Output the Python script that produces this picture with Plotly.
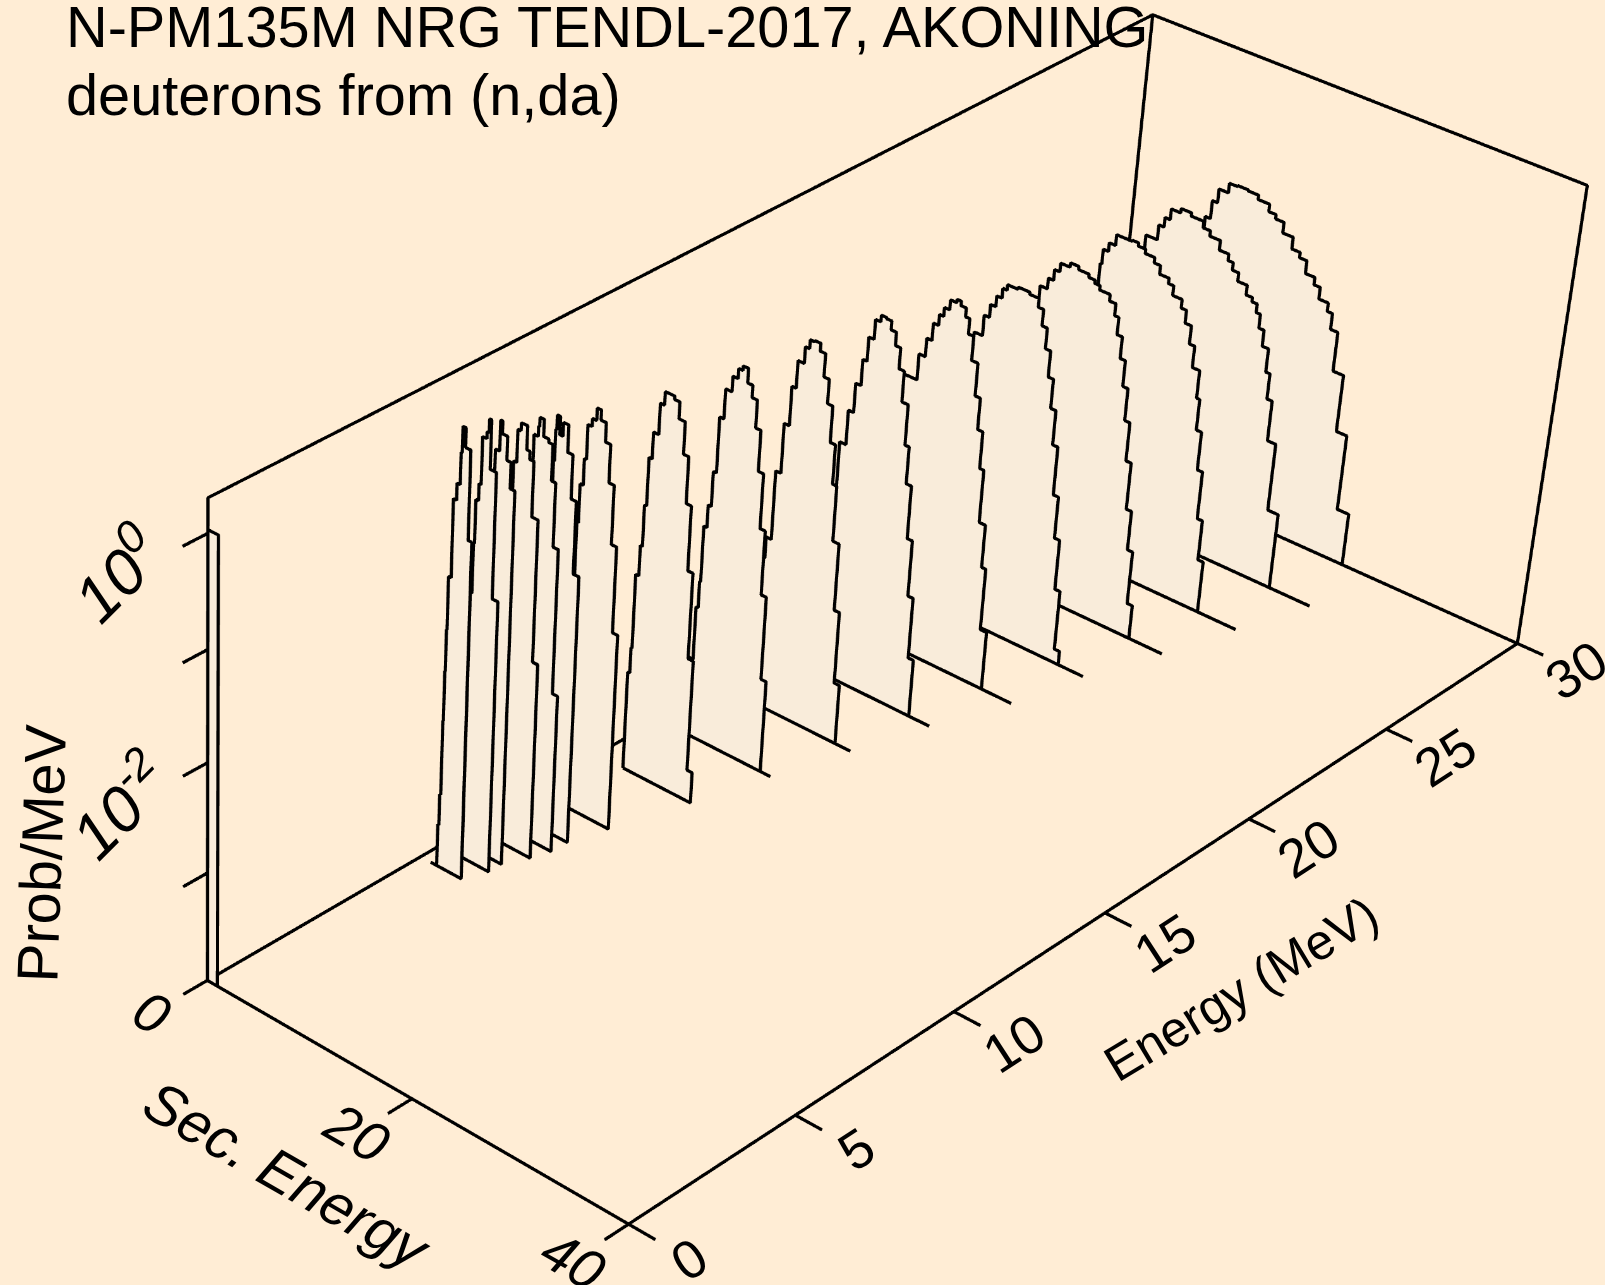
import plotly.graph_objects as go

# ---- data ------------------------------------------------------------------
TITLE_1 = "N-PM135M NRG TENDL-2017, AKONING"
TITLE_2 = "deuterons from (n,da)"
X_TITLE = "Sec. Energy"
Y_TITLE = "Energy (MeV)"
Z_TITLE = "Prob/MeV"
SEC_TICKS = [0, 20, 40]
EN_TICKS = [0, 5, 10, 15, 20, 25, 30]
LOG_TICKS = [-3, -2, -1, 0]
LOG_TICK_LABELS = {0: "0", -2: "-2"}
SEC_MAX = 40
EN_MAX = 30
LOG_FLOOR = -4
LOG_TOP = 0.3

energy = [0, 6.4, 7, 7.4, 8, 8.5, 9, 10, 12, 14, 16, 18, 20, 22, 24, 26, 28, 30]
sec_start = [0, 1.6, 2.2, 2.1, 2.3, 2.5, 3.1, 2.95, 2.6, 2.5, 3.1, 3.5, 3.8, 5.1, 6.1, 6.6, 5.6, 6.4]
sec_tail = [None, None, None, None, None, None, None, None, None, 11.2, 13.2, 15.2, 17.6, 19.1, 21.4, 23.3, 25.3, None]
sec_lead = 1.0  # the E=6.4 curve has a short zero run before its first bin

edges_00 = [1.0]
logp_00 = [0.03]
edges_01 = [1.7, 1.8, 1.85, 1.9, 1.95, 2.2, 2.5, 2.8, 2.9, 3.2, 3.7, 4.05]
logp_01 = [-3.61, -3.32, -2.63, -2.17, -1.79, -1.31, -0.61, -0.46, -0.18, 0.05, -0.12, -0.91]
edges_02 = [2.35, 2.45, 2.7, 2.9, 3.3, 3.5, 3.7, 4.3, 4.85]
logp_02 = [-1.54, -1.09, -0.70, -0.55, -0.13, -0.07, 0.05, -0.38, -1.50]
edges_03 = [2.7, 2.8, 2.9, 3.3, 3.5, 4.0, 4.4, 4.85]
logp_03 = [-1.58, -1.01, -0.48, -0.30, -0.03, -0.14, -0.35, -0.58]
edges_04 = [2.7, 2.8, 3.1, 3.4, 4.0, 4.3, 4.7, 5.3, 5.8]
logp_04 = [-1.68, -0.96, -0.50, -0.21, -0.14, -0.35, -0.42, -0.91, -2.19]
edges_05 = [2.8, 3.0, 3.1, 3.5, 3.6, 4.0, 4.5, 4.9, 5.3, 5.8, 6.3]
logp_05 = [-1.76, -1.03, -0.55, -0.33, -0.24, -0.16, -0.31, -0.34, -0.66, -1.23, -2.54]
edges_06 = [3.4, 3.5, 3.6, 3.7, 4.0, 4.3, 4.8, 5.3, 5.8, 6.35]
logp_06 = [-1.68, -1.08, -0.62, -0.34, -0.21, -0.37, -0.25, -0.49, -0.88, -1.53]
edges_07 = [3.1, 3.4, 3.6, 4.0, 4.4, 4.8, 5.3, 5.8, 6.3, 6.8, 7.3]
logp_07 = [-1.35, -1.00, -0.76, -0.45, -0.38, -0.27, -0.36, -0.53, -0.87, -1.40, -2.18]
edges_08 = [2.8, 2.9, 3.2, 3.4, 3.6, 3.9, 4.4, 4.8, 5.7, 6.2, 6.8, 7.3, 7.8, 8.3, 8.8, 9.3]
logp_08 = [-3.08, -2.84, -2.15, -1.87, -1.49, -1.05, -0.81, -0.53, -0.41, -0.44, -0.59, -0.88, -1.30, -1.89, -2.68, -3.71]
edges_09 = [3.1, 3.3, 3.4, 3.7, 4.0, 4.3, 4.7, 5.3, 5.8, 6.2, 6.7, 7.2, 7.7, 8.2, 8.7, 9.2, 9.7, 10.2]
logp_09 = [-3.27, -2.77, -2.52, -2.00, -1.79, -1.47, -0.96, -0.69, -0.55, -0.46, -0.42, -0.55, -0.66, -0.91, -1.28, -1.78, -2.37, -3.14]
edges_10 = [3.3, 3.6, 3.8, 4.3, 4.8, 5.3, 5.7, 6.3, 6.7, 7.1, 7.7, 8.2, 8.7, 9.2, 9.7, 10.1, 10.7, 11.2, 11.7]
logp_10 = [-3.50, -3.10, -2.60, -2.40, -1.76, -1.30, -0.94, -0.69, -0.54, -0.46, -0.45, -0.52, -0.73, -0.95, -1.28, -1.64, -2.15, -2.77, -3.44]
edges_11 = [4.0, 4.2, 4.7, 5.3, 5.8, 6.3, 6.7, 7.2, 7.7, 8.2, 8.7, 9.2, 9.7, 10.2, 10.8, 11.2, 11.7, 12.2, 12.7, 13.2]
logp_11 = [-3.21, -2.44, -2.29, -1.78, -1.46, -1.19, -0.95, -0.73, -0.55, -0.49, -0.50, -0.58, -0.70, -0.89, -1.17, -1.54, -1.88, -2.37, -2.89, -3.46]
edges_12 = [4.1, 4.4, 4.7, 6.2, 6.8, 7.3, 7.8, 8.2, 8.7, 9.3, 9.7, 10.2, 10.6, 11.1, 11.7, 12.2, 12.7, 13.1, 13.7, 14.1, 14.7]
logp_12 = [-3.05, -2.27, -1.69, -1.44, -1.20, -1.03, -0.87, -0.77, -0.69, -0.60, -0.57, -0.61, -0.69, -0.83, -1.05, -1.35, -1.64, -1.98, -2.47, -2.87, -3.45]
edges_13 = [5.2, 5.5, 6.0, 6.8, 7.3, 7.8, 8.3, 8.7, 9.7, 10.8, 11.7, 12.2, 12.7, 13.2, 13.7, 14.2, 14.7, 15.2, 15.7, 16.2, 16.7]
logp_13 = [-2.92, -2.14, -1.59, -1.30, -1.11, -0.99, -0.89, -0.80, -0.75, -0.73, -0.75, -0.83, -0.98, -1.17, -1.41, -1.68, -2.00, -2.45, -2.84, -3.31, -3.87]
edges_14 = [6.4, 6.5, 6.7, 7.4, 7.9, 8.4, 9.3, 10.1, 11.1, 11.7, 12.2, 13.2, 13.8, 14.2, 14.7, 15.2, 15.7, 16.2, 16.7, 17.2, 17.7, 18.2]
logp_14 = [-3.18, -2.21, -1.35, -1.13, -1.03, -0.93, -0.85, -0.81, -0.84, -0.87, -0.90, -0.94, -1.00, -1.11, -1.27, -1.47, -1.71, -2.01, -2.37, -2.81, -3.18, -3.68]
edges_15 = [6.8, 7.0, 7.15, 7.3, 7.8, 8.4, 9.4, 9.9, 10.5, 11.2, 12.1, 12.7, 13.6, 14.1, 15.0, 15.5, 16.1, 16.6, 17.3, 17.6, 18.1, 18.6, 19.1, 19.6]
logp_15 = [-3.27, -2.30, -1.63, -1.19, -1.05, -0.97, -0.87, -0.87, -0.86, -0.89, -0.93, -0.98, -1.06, -1.11, -1.20, -1.28, -1.40, -1.57, -1.77, -2.03, -2.32, -2.68, -3.13, -3.51]
edges_16 = [5.8, 6.0, 6.3, 7.4, 7.9, 8.4, 9.3, 10.3, 11.5, 12.2, 13.2, 14.1, 14.6, 15.2, 16.1, 16.7, 17.2, 17.6, 18.1, 18.7, 19.1, 19.6, 20.4, 21.4]
logp_16 = [-3.23, -2.35, -1.76, -1.24, -1.10, -1.01, -0.91, -0.87, -0.90, -0.96, -1.01, -1.10, -1.16, -1.23, -1.31, -1.40, -1.44, -1.52, -1.65, -1.80, -2.02, -2.26, -2.64, -3.28]
edges_17 = [6.6, 6.7, 6.9, 7.4, 7.9, 8.8, 9.6, 10.6, 11.6, 12.7, 13.4, 14.2, 15.2, 16.0, 16.7, 17.6, 18.2, 19.1, 19.6, 20.3, 21.3, 22.3, 23.4]
logp_17 = [-3.31, -2.52, -1.83, -1.32, -1.15, -1.02, -0.93, -0.92, -0.93, -0.97, -1.04, -1.08, -1.18, -1.29, -1.34, -1.46, -1.53, -1.64, -1.72, -1.87, -2.24, -2.78, -3.50]

all_edges = [edges_00, edges_01, edges_02, edges_03, edges_04, edges_05, edges_06, edges_07, edges_08,
             edges_09, edges_10, edges_11, edges_12, edges_13, edges_14, edges_15, edges_16, edges_17]
all_logp = [logp_00, logp_01, logp_02, logp_03, logp_04, logp_05, logp_06, logp_07, logp_08,
            logp_09, logp_10, logp_11, logp_12, logp_13, logp_14, logp_15, logp_16, logp_17]

# ---- styles ------------------------------------------------------------------
BG = "#FFEDD5"
FACE = "#F9ECDA"
INK = "#000000"
FONT = "Liberation Sans"
LINE_W = 6

# The reference's view has an off-centre principal point and a long focal length,
# so the 3-D scene is larger than the window and its centre sits on that point.
FIG_W, FIG_H = 2739, 4835
LEFT, TOP = -1130, -1490
GL_RATIO = 1.69
S_RANGE = [-20, 60]
E_RANGE = [-8, 38]
L_RANGE = [-5, 1.3]

xs, ys, zs = [], [], []
def add_line(sec, en, logp):
    xs.extend(sec + [None]); ys.extend(en + [None]); zs.extend([10 ** v for v in logp] + [None])

# box and tick marks
f, t = LOG_FLOOR, LOG_TOP
add_line([0, SEC_MAX, SEC_MAX, 0, 0], [0, 0, EN_MAX, EN_MAX, 0], [f, f, f, f, f])
add_line([0, 0, 0, SEC_MAX, SEC_MAX], [0, 0, EN_MAX, EN_MAX, EN_MAX], [f, t, t, t, f])
add_line([0, 0], [EN_MAX, EN_MAX], [f, t])
for s in SEC_TICKS:
    add_line([s, s], [0, -0.7], [f, f])
for e in EN_TICKS:
    add_line([SEC_MAX, SEC_MAX + 2.4], [e, e], [f, f])
for l in LOG_TICKS:
    add_line([0, 0], [0, -0.7], [l, l])

# curves
vx, vy, vz, ti, tj, tk = [], [], [], [], [], []
for idx, (en, s0, tail, edges, logp) in enumerate(zip(energy, sec_start, sec_tail, all_edges, all_logp)):
    sec = [s0]; val = [f]
    left = s0
    for right, v in zip(edges, logp):
        sec += [left, right]; val += [v, v]
        n = len(vx)
        lo, hi = left - 0.01, right + 0.01  # small overlap keeps seams closed between columns
        vx += [lo, hi, hi, lo]; vy += [en + 0.04] * 4; vz += [10 ** f, 10 ** f, 10 ** v, 10 ** v]
        ti += [n, n]; tj += [n + 1, n + 2]; tk += [n + 2, n + 3]
        left = right
    sec += [left]; val += [f]
    if tail is not None:
        sec += [tail]; val += [f]
    sec += [s0]; val += [f]
    if idx == 1:
        sec += [sec_lead]; val += [f]
    add_line(sec, [en] * len(sec), val)

fig = go.Figure()
fig.add_trace(go.Mesh3d(x=vx, y=vy, z=vz, i=ti, j=tj, k=tk, color=FACE, opacity=1, flatshading=True,
                        lighting=dict(ambient=1, diffuse=0, specular=0, roughness=1, fresnel=0),
                        hoverinfo="skip", showscale=False))
fig.add_trace(go.Scatter3d(x=xs, y=ys, z=zs, mode="lines", line=dict(color=INK, width=LINE_W),
                           connectgaps=False, hoverinfo="skip", showlegend=False))

def label(text, sec, en, log, angle, size):
    return dict(x=sec, y=en, z=log, text=text, textangle=angle, showarrow=False, xanchor="center", yanchor="middle",
                font=dict(family=FONT, size=size, color=INK))

ann3 = []
for s in SEC_TICKS:
    ann3.append(label(f"<i>{s}</i>", s, -1.6, f, 30, 56))
for e in EN_TICKS:
    ann3.append(label(str(e), SEC_MAX + 5.4, e, f, -33, 54))
for l, sup in LOG_TICK_LABELS.items():
    ann3.append(label(f"<i>10<sup>{sup}</sup></i>", 0, -2.5, l + 0.06, -45, 64))
ann3.append(label(f"<i>{X_TITLE}</i>", 20.0, -3.55, f, 30, 58))
ann3.append(label(Y_TITLE, 52.7, 14.8, f, -31, 50))
ann3.append(label(Z_TITLE, 0, -4.6, -2.0, -88, 58))

def paper_x(px): return (px - LEFT) / FIG_W
def paper_y(py): return 1 - (py - TOP) / FIG_H

fig.update_layout(
    width=FIG_W, height=FIG_H, margin=dict(l=0, r=0, t=0, b=0, pad=0), autosize=False,
    paper_bgcolor=BG, showlegend=False,
    scene=dict(
        domain=dict(x=[0, 1], y=[0, 1]), bgcolor="rgba(0,0,0,0)", aspectmode="manual",
        aspectratio=dict(x=2.0, y=3.98379, z=1.45889),
        camera=dict(eye=dict(x=5.47472, y=-7.29757, z=5.51749),
                    center=dict(x=-0.65636, y=-1.05903, z=-0.57843),
                    up=dict(x=-0.40449, y=0.40413, z=0.82041),
                    projection=dict(type="perspective")),
        xaxis=dict(visible=False, range=S_RANGE, autorange=False),
        yaxis=dict(visible=False, range=E_RANGE, autorange=False),
        zaxis=dict(visible=False, type="log", range=L_RANGE, autorange=False),
        annotations=ann3,
    ),
    annotations=[
        dict(x=paper_x(64), y=paper_y(61), xref="paper", yref="paper", xanchor="left", yanchor="bottom", text=TITLE_1,
             showarrow=False, font=dict(family=FONT, size=57.7, color=INK)),
        dict(x=paper_x(64), y=paper_y(129), xref="paper", yref="paper", xanchor="left", yanchor="bottom", text=TITLE_2,
             showarrow=False, font=dict(family=FONT, size=57.7, color=INK)),
    ],
)
post = ("var gd=document.getElementById('{plot_id}');"
        "gd.style.position='absolute';gd.style.left='%dpx';gd.style.top='%dpx';"
        "document.documentElement.style.overflow='hidden';"
        "document.body.style.margin='0';document.body.style.overflow='hidden';"
        "document.body.style.background='%s';" % (LEFT, TOP, BG))
fig.write_html("out.html", post_script=post, config={"plotGlPixelRatio": GL_RATIO})
